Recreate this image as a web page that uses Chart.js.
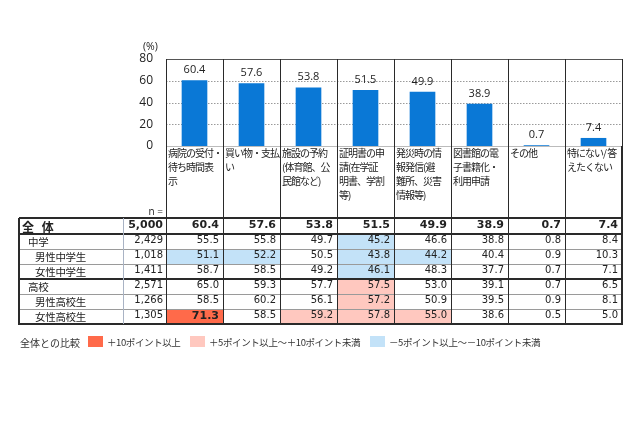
<!DOCTYPE html>
<html><head><meta charset="utf-8">
<script src="https://cdn.jsdelivr.net/npm/chart.js@4/dist/chart.umd.min.js"></script>
<style>
html,body{margin:0;padding:0;background:#fff;}
#wrap{position:relative;width:640px;height:426px;overflow:hidden;font-family:"Noto Sans CJK JP",sans-serif;color:#222;}
#c{position:absolute;left:0;top:0;}
.a{position:absolute;white-space:nowrap;box-sizing:border-box;}
</style></head><body>
<div id="wrap"><canvas id="c" width="640" height="426"></canvas></div>
<script>
// ---- data ----
const categories = [
  ["病院の受付・","待ち時間表","示"],
  ["買い物・支払","い"],
  ["施設の予約","(体育館、公","民館など)"],
  ["証明書の申","請(在学証","明書、学割","等)"],
  ["発災時の情","報発信(避","難所、災害","情報等)"],
  ["図書館の電","子書籍化・","利用申請"],
  ["その他"],
  ["特にない/ 答","えたくない"]
];
const overall = [60.4, 57.6, 53.8, 51.5, 49.9, 38.9, 0.7, 7.4];
const totalLabel = "全 体";
const totalN = "5,000";
const groupLabels = ["中学","男性中学生","女性中学生","高校","男性高校生","女性高校生"];
const groupLevel = [0,1,1,0,1,1];
const groupN = ["2,429","1,018","1,411","2,571","1,266","1,305"];
const groupValues = [
  [55.5, 55.8, 49.7, 45.2, 46.6, 38.8, 0.8, 8.4],
  [51.1, 52.2, 50.5, 43.8, 44.2, 40.4, 0.9, 10.3],
  [58.7, 58.5, 49.2, 46.1, 48.3, 37.7, 0.7, 7.1],
  [65.0, 59.3, 57.7, 57.5, 53.0, 39.1, 0.7, 6.5],
  [58.5, 60.2, 56.1, 57.2, 50.9, 39.5, 0.9, 8.1],
  [71.3, 58.5, 59.2, 57.8, 55.0, 38.6, 0.5, 5.0]
];
const yTicks = [0, 20, 40, 60, 80];
const legendTitle = "全体との比較";
const legendItems = ["＋10ポイント以上","＋5ポイント以上～＋10ポイント未満","－5ポイント以上～－10ポイント未満"];

// ---- styles ----
const BAR = "#0A78D6";
const RED = "#FF6A4A", PINK = "#FFC8BF", BLUE = "#C3E2F8";
const DARK = "#2a2a2a";

const framePlugin = {
  id: "frame",
  beforeDatasetsDraw(chart) {
    const {ctx, chartArea: ca, scales: {x, y}} = chart;
    ctx.save();
    ctx.lineWidth = 1;
    ctx.strokeStyle = "#9a9a9a";
    ctx.setLineDash([1.5, 1.5]);
    [20, 40, 60].forEach(v => {
      const py = Math.round(y.getPixelForValue(v)) + 0.5;
      ctx.beginPath(); ctx.moveTo(ca.left, py); ctx.lineTo(ca.right, py); ctx.stroke();
    });
    ctx.setLineDash([]);
    ctx.strokeStyle = "#555";
    let py = Math.round(y.getPixelForValue(80)) + 0.5;
    ctx.beginPath(); ctx.moveTo(ca.left, py); ctx.lineTo(ca.right, py); ctx.stroke();
    ctx.strokeStyle = "#bbb";
    py = Math.round(y.getPixelForValue(0)) + 0.5;
    ctx.beginPath(); ctx.moveTo(ca.left, py); ctx.lineTo(ca.right, py); ctx.stroke();
    const w = (ca.right - ca.left) / categories.length;
    ctx.strokeStyle = DARK;
    for (let i = 0; i <= categories.length; i++) {
      const px = Math.round(x.getPixelForValue(i) - w / 2) + 0.5;
      ctx.beginPath(); ctx.moveTo(px, ca.top); ctx.lineTo(px, ca.bottom); ctx.stroke();
    }
    ctx.restore();
  }
};
const valuePlugin = {
  id: "values",
  afterDatasetsDraw(chart) {
    const {ctx} = chart;
    const meta = chart.getDatasetMeta(0);
    ctx.save();
    ctx.font = "11px 'Open Sans'";
    ctx.fillStyle = "#222";
    ctx.textAlign = "center";
    ctx.textBaseline = "alphabetic";
    meta.data.forEach((bar, i) => {
      ctx.fillText(overall[i].toFixed(1), bar.x, bar.y - 7);
    });
    ctx.restore();
  }
};

const chart = new Chart(document.getElementById("c"), {
  type: "bar",
  data: {
    labels: categories.map(c => c.join("")),
    datasets: [{data: overall, backgroundColor: BAR, barPercentage: 0.45, categoryPercentage: 1}]
  },
  options: {
    responsive: false, animation: false, devicePixelRatio: 1,
    layout: {padding: {left: 106, right: 18, top: 59, bottom: 280}},
    plugins: {legend: {display: false}, tooltip: {enabled: false}},
    scales: {
      x: {display: false},
      y: {
        min: 0, max: 80,
        afterFit(a) { a.width = 60; },
        afterBuildTicks(a) { a.ticks = yTicks.map(v => ({value: v})); },
        grid: {display: false, drawTicks: false}, border: {display: false},
        ticks: {padding: 13, color: "#222", font: {family: "Open Sans", size: 12}}
      }
    }
  },
  plugins: [framePlugin, valuePlugin]
});

// ---- overlay (labels + table + legend) ----
const wrap = document.getElementById("wrap");
function div(css, text) {
  const d = document.createElement("div");
  d.className = "a"; d.style.cssText = css;
  if (text !== undefined) d.textContent = text;
  wrap.appendChild(d); return d;
}
const ca = chart.chartArea, xs = chart.scales.x;
const colW = (ca.right - ca.left) / categories.length;
const colLeft = i => Math.round(xs.getPixelForValue(i) - colW / 2);
const TL = 19, LBLR = 123, NR = colLeft(0), TR = colLeft(categories.length);
const rowY = [218, 234, 249, 264, 279, 294, 309, 324];
const tableBottom = rowY[rowY.length - 1];

// (%) and n =
div(`left:143px;top:39px;font:10.5px 'Open Sans';color:#222;`, "(%)");
div(`left:${NR - 40}px;top:204px;width:37px;text-align:right;font:10px 'Open Sans';color:#222;`, "n =");

// category labels
categories.forEach((lines, i) => {
  const d = div(`left:${colLeft(i) + 2}px;top:${Math.round(ca.bottom)}px;font:10px/14px 'Noto Sans CJK JP';letter-spacing:-1px;color:#222;`);
  d.innerHTML = lines.map(s => s.replace(/&/g, "&amp;").replace(/</g, "&lt;")).join("<br>");
});

// table cells
function cellColor(v, i) {
  const d = v - overall[i];
  if (d >= 10) return RED;
  if (d >= 5) return PINK;
  if (d <= -5) return BLUE;
  return null;
}
const rows = [{label: totalLabel, n: totalN, vals: overall, total: true}].concat(
  groupLabels.map((g, k) => ({label: g, n: groupN[k], vals: groupValues[k], level: groupLevel[k]})));
rows.forEach((r, k) => {
  const top = rowY[k], h = rowY[k + 1] - rowY[k];
  const numFont = r.total ? "bold 11px 'DejaVu Sans'" : "10px 'DejaVu Sans'";
  const lblLeft = r.total ? 22 : (r.level ? 35 : 28);
  div(`left:${lblLeft}px;top:${top}px;height:${h}px;line-height:${h}px;word-spacing:5px;letter-spacing:${r.total ? 0 : -0.3}px;font:${r.total ? "bold 12px" : "10.5px"} 'Noto Sans CJK JP';`, r.label);
  div(`left:${LBLR}px;top:${top}px;width:${NR - LBLR - 3}px;height:${h}px;line-height:${h}px;text-align:right;font:${numFont};`, r.n);
  r.vals.forEach((v, i) => {
    const bg = r.total ? null : cellColor(v, i);
    const bold = r.total || bg === RED;
    div(`left:${colLeft(i)}px;top:${top}px;width:${colLeft(i + 1) - colLeft(i)}px;height:${h}px;line-height:${h}px;text-align:right;padding-right:4px;` +
        `background:${bg || "transparent"};font:${bold ? "bold 11px" : "10px"} 'DejaVu Sans';`, v.toFixed(1));
  });
});

// table lines
function hline(x1, x2, y, w, c) { div(`left:${x1}px;top:${y - Math.floor(w / 2)}px;width:${x2 - x1}px;height:${w}px;background:${c};`); }
function vline(x, y1, y2, w, c) { div(`left:${x - Math.floor(w / 2)}px;top:${y1}px;width:${w}px;height:${y2 - y1}px;background:${c};`); }
rowY.forEach((y, k) => {
  const thick = (k === 0 || k === 1 || k === 4 || k === rowY.length - 1);
  hline(TL, TR + 1, y, thick ? 2 : 1, thick ? DARK : "#9a9a9a");
});
vline(TL, rowY[0], tableBottom + 1, 2, DARK);
vline(LBLR, rowY[0], tableBottom, 1, "#a9b3c4");
for (let i = 0; i <= categories.length; i++) {
  const w = (i === categories.length) ? 2 : 1;
  vline(colLeft(i), Math.round(ca.bottom), i === categories.length ? tableBottom + 1 : tableBottom, w, DARK);
}
vline(TR, Math.round(ca.top), Math.round(ca.bottom), 1, DARK);

// legend
div(`left:20px;top:335px;height:14px;line-height:14px;font:10px 'Noto Sans CJK JP';color:#333;`, legendTitle);
const legendX = [88, 190, 370];
const legendC = [RED, PINK, BLUE];
legendItems.forEach((t, i) => {
  div(`left:${legendX[i]}px;top:336px;width:15px;height:11px;background:${legendC[i]};`);
  div(`left:${legendX[i] + 19}px;top:335px;height:14px;line-height:14px;font:9.5px 'Noto Sans CJK JP';letter-spacing:-0.4px;color:#333;`, t);
});
</script>
</body></html>
